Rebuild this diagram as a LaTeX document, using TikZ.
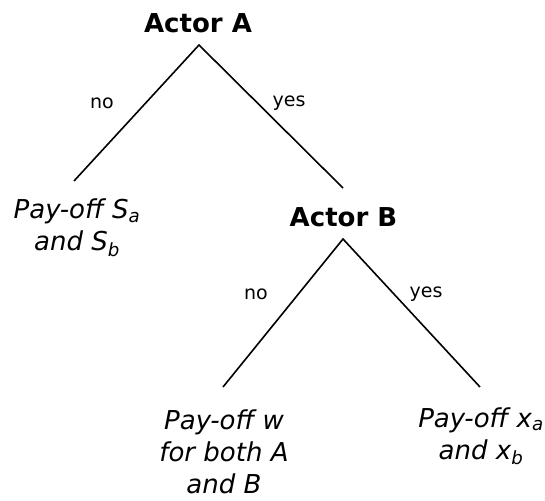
\documentclass[tikz,border=0pt]{standalone}
\usepackage{fontspec}
\setmainfont{DejaVu Sans}
\begin{document}
\begin{tikzpicture}[x=1pt,y=1pt,
  actor/.style={font=\fontsize{26}{32}\selectfont\bfseries, inner sep=0pt, anchor=base},
  payoff/.style={font=\fontsize{26}{32}\selectfont\itshape, inner sep=0pt, anchor=base, align=center},
  choice/.style={font=\fontsize{19}{23}\selectfont, inner sep=0pt, anchor=base},
  branch/.style={line width=1.6pt}]
\useasboundingbox (0,0) rectangle (545,500);
% nodes (base = baseline of the last line)
\node[actor] (A) at (198,467) {Actor A};
\node[actor] (B) at (343.5,273) {Actor B};
\node[payoff] (S) at (77,249) {Pay-off S\textsubscript{a}\\and S\textsubscript{b}};
\node[payoff] (W) at (224,7) {Pay-off w\\for both A\\and B};
\node[payoff] (X) at (481,41) {Pay-off x\textsubscript{a}\\and x\textsubscript{b}};
% branch end points
\coordinate (a0) at (199,455);
\coordinate (a1) at (74,319);
\coordinate (a2) at (343,312);
\coordinate (b0) at (343,261);
\coordinate (b1) at (223,113);
\coordinate (b2) at (480,113);
\draw[branch] (a1) -- (a0) -- (a2);
\draw[branch] (b1) -- (b0) -- (b2);
% labels
\node[choice] (n1) at (102,391) {no};
\node[choice] (y1) at (289,393) {yes};
\node[choice] (n2) at (256,200) {no};
\node[choice] (y2) at (426,202) {yes};
\end{tikzpicture}
\end{document}
